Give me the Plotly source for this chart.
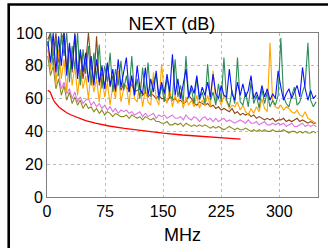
import plotly.graph_objects as go

# Frequency grid of the measured traces (MHz)
freq = [1, 4.5, 8, 11.5, 15, 18.5, 22, 25.5, 29, 32.5, 36, 39.5, 43, 46.5, 50,
        53.5, 57, 60.5, 64, 67.5, 71, 74.5, 78, 81.5, 85, 88.5, 92, 95.5, 99,
        102.5, 106, 109.5, 113, 116.5, 120, 123.5, 127, 130.5, 134, 137.5, 141, 144.5, 148,
        151.5, 155, 158.5, 162, 165.5, 169, 172.5, 176, 179.5, 183, 186.5, 190, 193.5, 197, 200.5,
        204, 207.5, 211, 214.5, 218, 221.5, 225, 228.5, 232, 235.5, 239, 242.5, 246, 249.5,
        253, 256.5, 260, 263.5, 267, 270.5, 274, 277.5, 281, 284.5, 288, 291.5, 295, 298.5,
        302, 305.5, 309, 312.5, 316, 319.5, 323, 326.5, 330, 333.5, 337, 340.5, 344, 347.5]

blue = [95, 82, 100, 76, 98, 80, 100, 74, 94, 78, 99, 72, 90, 76, 88,
        70, 86, 68, 84, 70, 80, 66, 82, 68, 78, 65, 84, 67, 76,
        85, 64, 74, 62, 80, 66, 63, 79, 62, 72, 64, 77, 61, 70,
        63, 75, 64, 87, 62, 72, 60, 69, 78, 61, 68, 63, 74, 60, 67,
        62, 70, 61, 75, 63, 60, 68, 62, 61, 78, 63, 59, 70, 62,
        69, 61, 65, 74, 60, 64, 59, 68, 61, 66, 59, 63, 60, 77,
        67, 59, 63, 66, 60, 64, 68, 61, 79, 66, 59, 65, 60, 62]

green = [92, 100, 80, 97, 74, 100, 86, 100, 70, 92, 78, 100, 68, 90, 75,
         92, 68, 88, 72, 93, 66, 80, 70, 88, 64, 78, 68, 83, 65,
         74, 64, 86, 62, 72, 60, 79, 63, 82, 61, 70, 75, 59, 68,
         58, 73, 62, 60, 84, 61, 68, 58, 86, 60, 66, 57, 73, 59, 64,
         57, 81, 59, 64, 56, 69, 58, 85, 59, 55, 65, 57, 85, 58,
         56, 64, 55, 70, 57, 62, 54, 66, 57, 64, 55, 59, 56, 62,
         97, 61, 57, 55, 62, 67, 56, 58, 64, 69, 94, 59, 55, 58]

orange = [94, 78, 98, 68, 90, 72, 84, 64, 88, 68, 80, 62, 78, 66, 74,
          60, 76, 64, 72, 58, 74, 61, 70, 56, 68, 60, 77, 58, 66,
          68, 56, 74, 60, 58, 70, 55, 66, 58, 56, 76, 60, 56, 81,
          64, 57, 66, 55, 62, 57, 64, 54, 61, 56, 59, 55, 62, 54, 59,
          56, 62, 55, 77, 58, 60, 56, 62, 58, 54, 56, 55, 58, 53,
          56, 52, 50, 54, 51, 55, 52, 60, 54, 52, 94, 58, 55, 54,
          56, 53, 55, 54, 52, 51, 53, 50, 49, 52, 48, 47, 46, 45]

brown = [96, 100, 86, 100, 82, 96, 100, 78, 92, 76, 100, 74, 88, 72, 82,
         100, 80, 70, 98, 68, 76, 66, 81, 67, 74, 64, 72, 65, 69,
         67, 65, 69, 64, 65, 66, 62, 64, 61, 63, 62, 60, 62, 60,
         60, 58, 61, 59, 60, 58, 59, 57, 58, 62, 60, 57, 56, 58, 57,
         56, 57, 55, 56, 54, 55, 53, 54, 53, 52, 54, 51, 52, 50,
         51, 50, 51, 49, 50, 48, 49, 48, 47, 48, 47, 48, 46, 47,
         47, 48, 46, 47, 46, 47, 48, 46, 47, 46, 45, 46, 45, 45]

violet = [90, 80, 84, 72, 76, 66, 70, 63, 66, 60, 64, 58, 61, 57, 59,
          60, 56, 58, 55, 57, 54, 56, 53, 55, 52, 54, 51, 53, 52,
          53, 51, 52, 50, 51, 52, 49, 51, 49, 50, 51, 48, 50, 49,
          50, 48, 49, 50, 48, 48, 49, 47, 50, 48, 47, 49, 48, 46, 48,
          49, 47, 48, 46, 48, 46, 47, 48, 46, 47, 46, 45, 46, 47,
          46, 45, 47, 45, 45, 46, 44, 45, 46, 44, 44, 45, 44, 45,
          44, 45, 43, 44, 45, 43, 43, 44, 45, 43, 44, 43, 44, 43]

olive = [86, 74, 80, 66, 72, 62, 68, 59, 64, 57, 61, 56, 59, 54, 57,
         54, 55, 52, 54, 51, 53, 50, 52, 51, 49, 51, 50, 49, 49,
         50, 48, 50, 49, 48, 49, 47, 49, 48, 47, 48, 46, 46, 45,
         45, 46, 44, 44, 45, 44, 45, 43, 45, 44, 43, 44, 43, 44, 43,
         44, 43, 42, 43, 42, 43, 42, 41, 42, 43, 42, 41, 42, 41,
         41, 42, 41, 40, 41, 40, 41, 40, 41, 40, 40, 41, 40, 40,
         40, 41, 40, 39, 40, 40, 39, 40, 39, 40, 39, 39, 40, 39]

# Limit line
limit_f = [1, 4, 8, 10, 16, 20, 25, 31.25, 40, 50, 62.5, 80, 100, 125, 150, 175, 200, 225, 250]
limit_v = [65.0, 64.1, 59.4, 57.8, 54.6, 53.1, 51.5, 50.0, 48.2, 46.6, 45.1, 43.3, 41.8,
           40.2, 38.9, 37.8, 36.9, 36.0, 35.3]

x_ticks = [0, 75, 150, 225, 300]
y_ticks = [0, 20, 40, 60, 80, 100]

series = [
    (olive, "#8c8c1e"),
    (violet, "#dd77dd"),
    (brown, "#8b4513"),
    (orange, "#ffa500"),
    (green, "#2e8b57"),
    (blue, "#0a14ff"),
]

fig = go.Figure()
for vals, col in series:
    fig.add_trace(go.Scatter(x=freq, y=vals, mode="lines",
                             line=dict(color=col, width=1.1), showlegend=False))
fig.add_trace(go.Scatter(x=limit_f, y=limit_v, mode="lines",
                         line=dict(color="#ff0000", width=1.3), showlegend=False))

font = "Liberation Sans, Arial, sans-serif"
fig.update_layout(
    width=328, height=248,
    margin=dict(l=47, r=10, t=33, b=51),
    paper_bgcolor="white", plot_bgcolor="white",
    font=dict(family=font, color="black", size=16),
    title=dict(text="NEXT (dB)", x=0.461, xref="paper", xanchor="center",
               y=0.905, yanchor="middle", font=dict(size=18, family=font)),
    xaxis=dict(range=[0, 350], tickvals=x_ticks, ticks="", showline=True, mirror=True,
               linecolor="#808080", linewidth=1, showgrid=True, gridcolor="#bdbdbd",
               griddash="dot", gridwidth=1, zeroline=False, automargin=False,
               tickfont=dict(size=16),
               title=dict(text="MHz", font=dict(size=18), standoff=9)),
    yaxis=dict(range=[0, 100], tickvals=y_ticks, ticks="", showline=True, mirror=True,
               linecolor="#808080", linewidth=1, showgrid=True, gridcolor="#bdbdbd",
               griddash="dot", gridwidth=1, zeroline=False, automargin=False,
               tickfont=dict(size=16)),
    shapes=[dict(type="rect", xref="paper", yref="paper",
                 x0=-0.1413, x1=1.1, y0=-0.4, y1=1.1738,
                 line=dict(color="black", width=2.6), layer="above")],
)

fig.write_html("out.html", config={"displayModeBar": False},
               post_script="document.body.style.margin='0';document.body.style.padding='0';")
